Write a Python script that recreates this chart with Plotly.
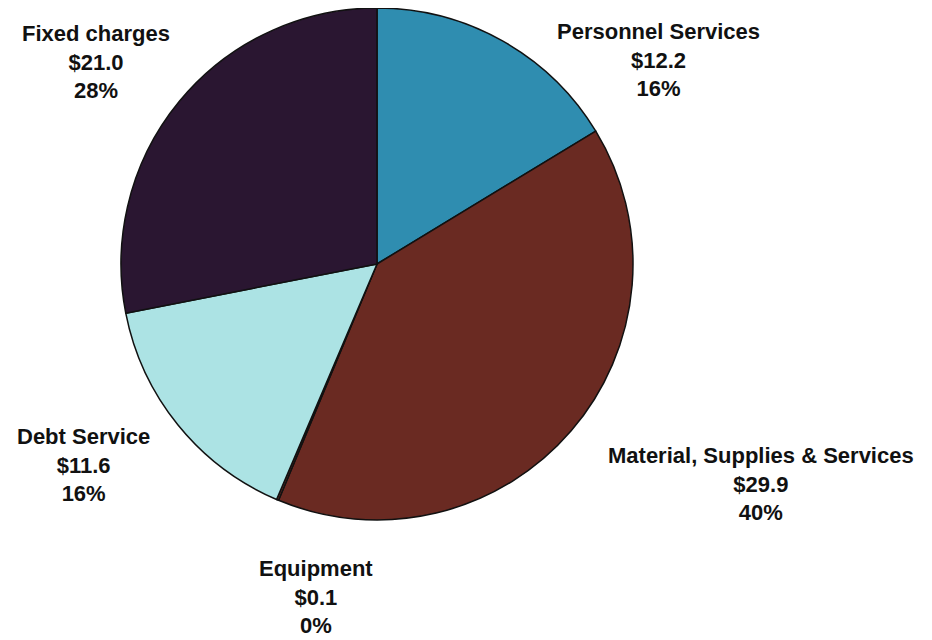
"""
Expense breakdown pie ($ millions) with labels placed around the pie.
"""
import plotly.graph_objects as go

# Data
CATEGORIES = ["Personnel Services", "Material, Supplies & Services", "Equipment", "Debt Service", "Fixed charges"]
VALUES = [12.2, 29.9, 0.1, 11.6, 21.0]
COLORS = ["#2f8db0", "#6a2a22", "#6a2a22", "#ace3e4", "#2a1631"]

# Label centres in page pixels (page has an 8px body margin)
LABEL_POS = [(658, 60), (761, 484), (316, 597), (83, 465), (96, 62)]
OFF = 8

W, H = 932, 640
total = sum(VALUES)

fig = go.Figure()
fig.add_trace(
    go.Pie(
        labels=CATEGORIES,
        values=VALUES,
        sort=False,
        direction="clockwise",
        rotation=0,
        textinfo="none",
        hoverinfo="label+value+percent",
        marker=dict(colors=COLORS, line=dict(color="#111111", width=1.5)),
        domain=dict(x=[113 / W, 625 / W], y=[1 - 512 / H, 1]),
        showlegend=False,
    )
)

for cat, val, (px, py) in zip(CATEGORIES, VALUES, LABEL_POS):
    pct = round(val / total * 100)
    fig.add_annotation(
        x=(px - OFF) / W,
        y=1 - (py - OFF) / H,
        xref="paper",
        yref="paper",
        text=f"<b>{cat}<br>${val:.1f}<br>{pct}%</b>",
        showarrow=False,
        align="center",
        xanchor="center",
        yanchor="middle",
        font=dict(family="Liberation Sans, Arial, sans-serif", size=22, color="#111111"),
    )

fig.update_layout(
    width=W,
    height=H,
    margin=dict(l=0, r=0, t=0, b=0),
    paper_bgcolor="white",
    plot_bgcolor="white",
)

fig.write_html("out.html")
